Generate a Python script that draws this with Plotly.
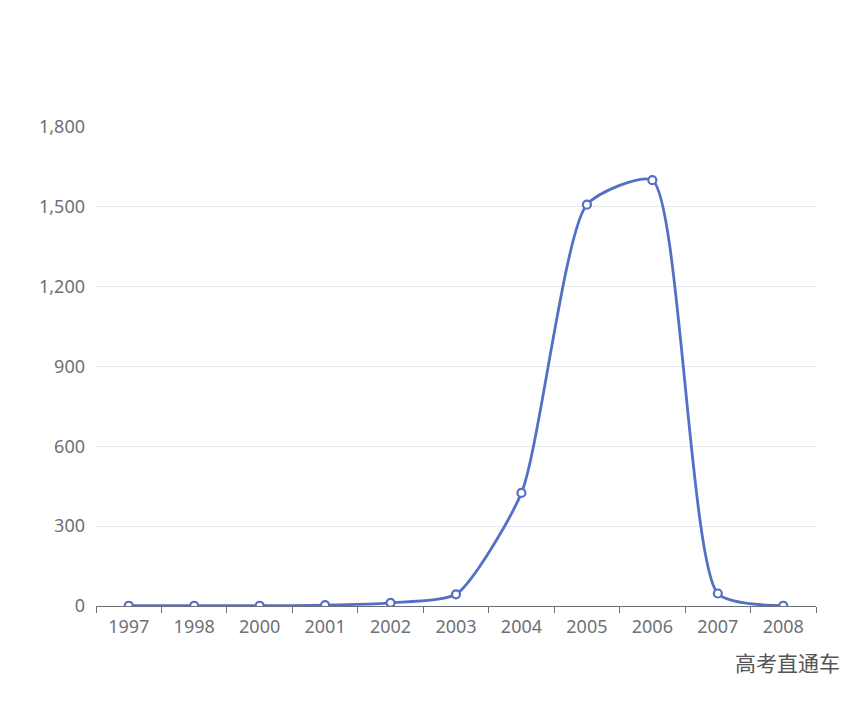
import plotly.graph_objects as go

YEARS = ["1997", "1998", "2000", "2001", "2002", "2003", "2004", "2005", "2006", "2007", "2008"]
VALUES = [1, 1, 1, 3, 12, 44, 425, 1508, 1600, 47, 1]
Y_TICKS = [0, 300, 600, 900, 1200, 1500, 1800]

LINE_COLOR = "#5470c6"
AXIS_COLOR = "#6e7079"
GRID_COLOR = "#e6e8ed"

fig = go.Figure()
fig.add_trace(go.Scatter(
    x=YEARS, y=VALUES,
    mode="lines+markers",
    line=dict(color=LINE_COLOR, width=2.8, shape="spline", smoothing=0.6),
    marker=dict(symbol="circle", size=8, color="white",
                line=dict(color=LINE_COLOR, width=2.2)),
    showlegend=False,
))

# page body adds an 8px margin, so the figure is drawn a bit smaller
fig.update_layout(
    width=860, height=694,
    template="plotly_white",
    paper_bgcolor="white", plot_bgcolor="white",
    margin=dict(l=88, r=52, t=119, b=96),
    font=dict(family="Noto Sans, sans-serif", color=AXIS_COLOR, size=18),
    xaxis=dict(
        type="category", showgrid=False,
        showline=True, linecolor=AXIS_COLOR, linewidth=1,
        ticks="outside", tickson="boundaries", ticklen=6, tickcolor=AXIS_COLOR,
        tickfont=dict(size=18, color=AXIS_COLOR), ticklabelstandoff=4,
        range=[-0.5, len(YEARS) - 0.5],
    ),
    yaxis=dict(
        range=[0, 1800], tickvals=Y_TICKS, tickformat=",",
        showgrid=True, gridcolor=GRID_COLOR, gridwidth=1,
        zeroline=False, showline=False,
        tickfont=dict(size=18, color=AXIS_COLOR), ticklabelstandoff=10,
    ),
)

fig.add_annotation(
    text="高考直通车", xref="paper", yref="paper",
    x=1.036, y=-0.117, xanchor="right", yanchor="middle",
    showarrow=False,
    font=dict(family="Noto Sans CJK SC", size=21, color="#555555"),
)

fig.write_html("out.html")
